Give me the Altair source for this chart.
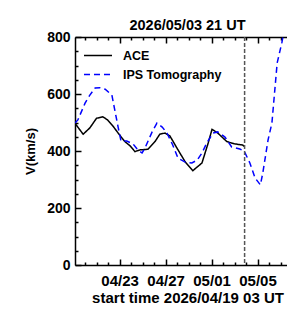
import altair as alt
import pandas as pd

# ---- data ----
ace_time = [
    "2026-04-19T03:00:00Z", "2026-04-19T20:00:00Z", "2026-04-20T10:00:00Z", "2026-04-21T00:00:00Z",
    "2026-04-21T13:00:00Z", "2026-04-21T23:00:00Z", "2026-04-22T10:00:00Z", "2026-04-22T21:00:00Z",
    "2026-04-23T11:00:00Z", "2026-04-23T22:00:00Z", "2026-04-24T08:00:00Z", "2026-04-24T19:00:00Z",
    "2026-04-25T11:00:00Z", "2026-04-26T02:00:00Z", "2026-04-26T12:00:00Z", "2026-04-26T23:00:00Z",
    "2026-04-27T09:00:00Z", "2026-04-28T02:00:00Z", "2026-04-28T17:00:00Z", "2026-04-29T09:00:00Z",
    "2026-04-30T04:00:00Z", "2026-04-30T17:00:00Z", "2026-05-01T01:00:00Z", "2026-05-01T13:00:00Z",
    "2026-05-02T08:00:00Z", "2026-05-03T00:00:00Z", "2026-05-03T17:00:00Z", "2026-05-03T21:00:00Z",
]
ace_speed = [497, 459, 481, 515, 520, 509, 488, 463, 433, 418, 398, 404, 406, 433, 459, 463,
             453, 404, 362, 331, 358, 428, 476, 463, 433, 425, 421, 415]

ips_time = [
    "2026-04-19T03:00:00Z", "2026-04-19T09:00:00Z", "2026-04-20T00:00:00Z", "2026-04-20T10:00:00Z",
    "2026-04-20T21:00:00Z", "2026-04-21T07:00:00Z", "2026-04-21T18:00:00Z", "2026-04-22T08:00:00Z",
    "2026-04-22T14:00:00Z", "2026-04-22T21:00:00Z", "2026-04-23T03:00:00Z", "2026-04-23T15:00:00Z",
    "2026-04-24T04:00:00Z", "2026-04-24T14:00:00Z", "2026-04-24T23:00:00Z", "2026-04-25T05:00:00Z",
    "2026-04-25T20:00:00Z", "2026-04-26T06:00:00Z", "2026-04-26T17:00:00Z", "2026-04-27T03:00:00Z",
    "2026-04-27T15:00:00Z", "2026-04-28T02:00:00Z", "2026-04-28T17:00:00Z", "2026-04-29T07:00:00Z",
    "2026-04-29T18:00:00Z", "2026-04-30T04:00:00Z", "2026-04-30T14:00:00Z", "2026-05-01T03:00:00Z",
    "2026-05-01T13:00:00Z", "2026-05-02T04:00:00Z", "2026-05-02T18:00:00Z", "2026-05-03T11:00:00Z",
    "2026-05-03T20:00:00Z", "2026-05-04T08:00:00Z", "2026-05-04T19:00:00Z", "2026-05-05T06:00:00Z",
    "2026-05-05T11:00:00Z", "2026-05-05T22:00:00Z", "2026-05-06T06:00:00Z", "2026-05-06T17:00:00Z",
    "2026-05-07T03:00:00Z", "2026-05-07T11:00:00Z",
]
ips_speed = [498, 509, 568, 596, 621, 622, 617, 596, 544, 484, 435, 435, 425, 404, 393, 410,
             467, 498, 484, 463, 421, 375, 361, 358, 368, 393, 428, 463, 467, 449, 414, 407,
             400, 358, 305, 281, 323, 439, 498, 709, 782, 860]

series_names = ["ACE", "IPS Tomography"]
series_colors = ["black", "blue"]
series_dashes = [[1, 0], [6, 4]]

cutoff_time = ["2026-05-03T21:00:00Z"]
chart_title = "2026/05/03 21 UT"
x_title = "start time 2026/04/19 03 UT"
y_title = "V(km/s)"

y_label_values = [0, 200, 400, 600, 800]
y_tick_values = list(range(0, 801, 50))
x_major_days = [(4, 23), (4, 27), (5, 1), (5, 5)]
x_all_days = [(4, d) for d in range(20, 31)] + [(5, d) for d in range(1, 8)]
x_start = (2026, 4, 19, 3, 0)
x_end = (2026, 5, 7, 13, 30)

# ---- build ----
FONT = "Liberation Sans Narrow, Liberation Sans, Arial, sans-serif"
W, H = 212, 228


def dt(m, d, h=0, mi=0):
    return alt.DateTime(year=2026, month=m, date=d, hours=h, minutes=mi, utc=True)


major_dt = [dt(m, d) for m, d in x_major_days]
all_dt = [dt(m, d) for m, d in x_all_days]
major_test = " || ".join(
    f"utcFormat(datum.value, '%m/%d') == '{m:02d}/{d:02d}'" for m, d in x_major_days
)

df = pd.concat([
    pd.DataFrame({"time": ace_time, "v": ace_speed, "series": series_names[0]}),
    pd.DataFrame({"time": ips_time, "v": ips_speed, "series": series_names[1]}),
], ignore_index=True)
cut_df = pd.DataFrame({"time": cutoff_time})

xscale = alt.Scale(type="utc", domain=[dt(x_start[1], x_start[2], x_start[3], x_start[4]),
                                       dt(x_end[1], x_end[2], x_end[3], x_end[4])])
yscale = alt.Scale(domain=[0, 800], nice=False, zero=False)

legend = alt.Legend(
    orient="none", legendX=8, legendY=11, title=None, padding=0,
    labelFont=FONT, labelFontSize=12.5, labelFontWeight="bold", labelColor="black",
    symbolType="stroke", symbolSize=784, symbolStrokeWidth=1.5, labelOffset=10,
    clipHeight=15, rowPadding=4,
)

lines = alt.Chart(df).mark_line(strokeWidth=1.5, clip=True).encode(
    x=alt.X("time:T", scale=xscale, axis=alt.Axis(
        orient="bottom", values=major_dt, format="%m/%d", ticks=False, tickSize=0,
        grid=False, domain=True, domainColor="black", domainWidth=1.5,
        labelFont=FONT, labelFontSize=15, labelFontWeight="bold", labelColor="black",
        labelPadding=8, title=x_title, titleFont=FONT, titleFontSize=15,
        titleFontWeight="bold", titleColor="black", titleX=112.5, titleY=37,
        titleBaseline="alphabetic", titleAlign="center")),
    y=alt.Y("v:Q", scale=yscale, axis=alt.Axis(
        orient="left", values=y_label_values, ticks=False, tickSize=0, grid=False,
        domain=True, domainColor="black", domainWidth=1.5,
        labelFont=FONT, labelFontSize=14, labelFontWeight="bold", labelColor="black",
        labelPadding=5, title=y_title, titleFont=FONT, titleFontSize=13,
        titleFontWeight="bold", titleColor="black", titlePadding=9)),
    color=alt.Color("series:N", scale=alt.Scale(domain=series_names, range=series_colors),
                    legend=legend),
    strokeDash=alt.StrokeDash("series:N", scale=alt.Scale(domain=series_names, range=series_dashes),
                              legend=legend),
    detail="series:N",
)

tick_axes = alt.Chart(df).mark_point(opacity=0, size=0).encode(
    x=alt.X("time:T", scale=xscale, axis=alt.Axis(
        orient="top", offset=-H, values=all_dt, labels=False, domain=False, grid=False,
        ticks=True, tickColor="black", tickWidth=1.5,
        tickSize={"condition": {"test": major_test, "value": 6}, "value": 3}, title=None)),
    y=alt.Y("v:Q", scale=yscale, axis=alt.Axis(
        orient="right", offset=-W, values=y_tick_values, labels=False, domain=False, grid=False,
        ticks=True, tickColor="black", tickWidth=1.5,
        tickSize={"condition": {"test": "datum.value % 200 == 0", "value": 6}, "value": 3},
        title=None)),
)

cut_rule = alt.Chart(cut_df).mark_rule(color="#555555", strokeWidth=1.5, strokeDash=[4, 2]).encode(
    x=alt.X("time:T", scale=xscale, axis=alt.Axis(
        orient="bottom", offset=-H, values=all_dt, labels=False, grid=False,
        domain=True, domainColor="black", domainWidth=1.5,
        ticks=True, tickColor="black", tickWidth=1.5,
        tickSize={"condition": {"test": major_test, "value": 6}, "value": 3}, title=None)),
)

chart = alt.layer(lines, tick_axes, cut_rule).resolve_axis(
    x="independent", y="independent"
).properties(
    width=W, height=H,
    title=alt.TitleParams(chart_title, font=FONT, fontSize=14.5, fontWeight="bold",
                          color="black", anchor="middle", offset=-14, dx=6.5),
    autosize=alt.AutoSizeParams(type="none"),
    padding={"left": 67, "top": 29, "right": 0, "bottom": 39},
    background="white",
).configure_view(stroke=None).configure(font=FONT)

chart.save("out.html", embed_options={"renderer": "svg", "actions": False})
